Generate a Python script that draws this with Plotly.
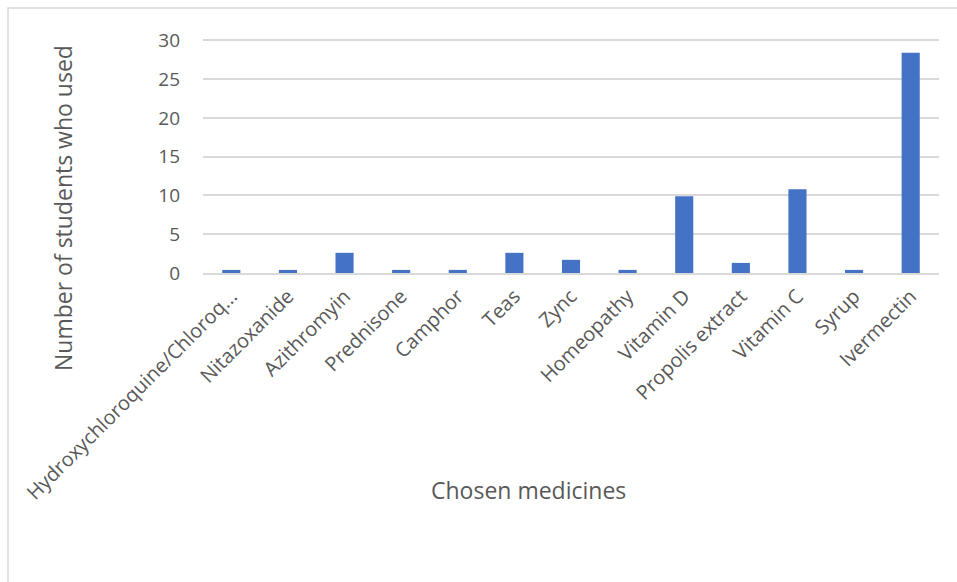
import plotly.graph_objects as go

categories = ["Hydroxychloroquine/Chloroq...", "Nitazoxanide", "Azithromyin", "Prednisone",
              "Camphor", "Teas", "Zync", "Homeopathy", "Vitamin D", "Propolis extract",
              "Vitamin C", "Syrup", "Ivermectin"]
values = [0.4, 0.4, 2.6, 0.4, 0.4, 2.6, 1.7, 0.4, 9.9, 1.3, 10.8, 0.4, 28.4]
y_ticks = [0, 5, 10, 15, 20, 25, 30]

FONT = "Open Sans"
TXT = "#595959"
W, H = 957, 582
L, R, T, B = 203, 18, 38, 309
pw, ph = W - L - R, H - T - B

def px(x):
    return (x - L) / pw

def py(y):
    return (H - B - y) / ph

fig = go.Figure(go.Bar(x=categories, y=values, marker_color="#4472c4",
                       marker_line_width=0))

fig.update_layout(
    width=W, height=H,
    margin=dict(l=L, r=R, t=T, b=B),
    paper_bgcolor="white", plot_bgcolor="white",
    bargap=0.68,
    showlegend=False,
    font=dict(family=FONT, color=TXT),
    xaxis=dict(tickangle=-45, tickfont=dict(size=20, color=TXT), showgrid=False,
               showline=True, linecolor="#d9d9d9", linewidth=1.5, ticks="",
               ticklabelstandoff=2),
    yaxis=dict(range=[0, 30.3], tickvals=y_ticks, tickfont=dict(size=19, color=TXT),
               showgrid=True, gridcolor="#d9d9d9", gridwidth=1.5,
               zeroline=False, showline=False, ticks="", ticklabelstandoff=22),
    shapes=[dict(type="rect", xref="paper", yref="paper",
                 x0=px(8), x1=px(965), y0=py(590), y1=py(8),
                 line=dict(color="#d9d9d9", width=1.5), layer="below")],
    annotations=[
        dict(text="Number of students who used", xref="paper", yref="paper",
             x=px(63), y=py(208), textangle=-90, showarrow=False,
             font=dict(size=23, color=TXT), xanchor="center", yanchor="middle"),
        dict(text="Chosen medicines", xref="paper", yref="paper",
             x=px(528), y=py(490), showarrow=False,
             font=dict(size=23, color=TXT), xanchor="center", yanchor="middle"),
    ],
)

fig.write_html("out.html")
